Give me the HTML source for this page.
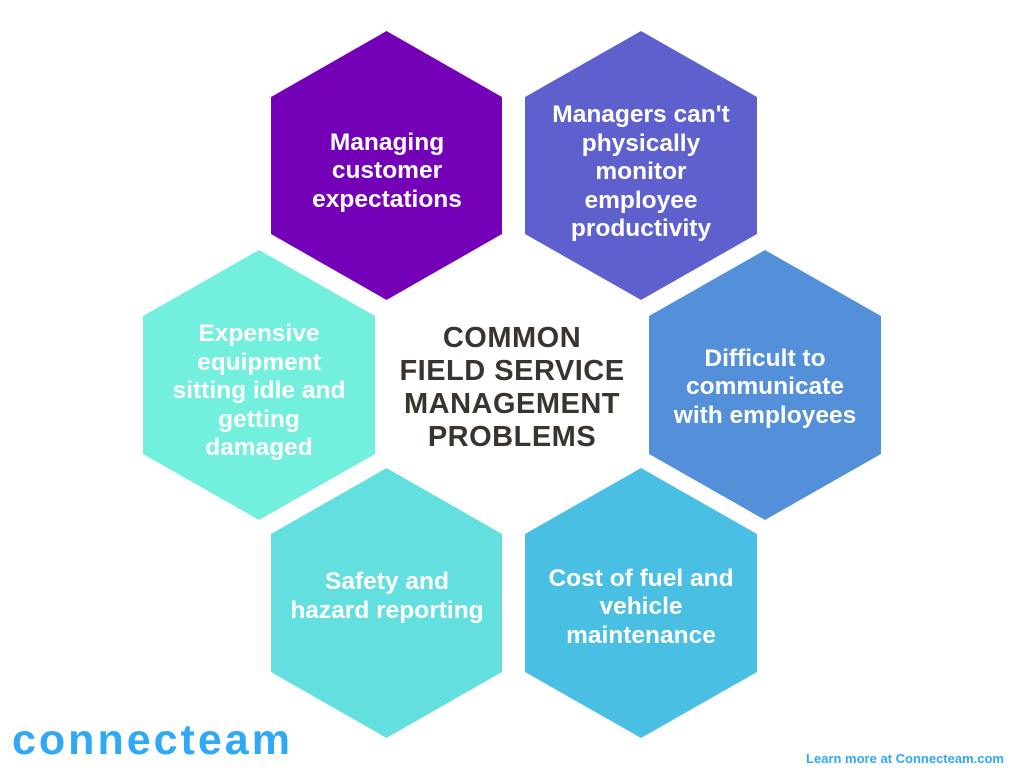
<!DOCTYPE html>
<html><head><meta charset="utf-8"><style>
body{margin:0;width:1024px;height:768px;background:#fff;position:relative;overflow:hidden;font-family:"Liberation Sans",sans-serif}
svg{position:absolute;left:0;top:0}
.t{position:absolute;width:230px;color:#fff;font-weight:bold;font-size:24.5px;line-height:28.5px;text-align:center;display:flex;align-items:center;justify-content:center;height:269px}
.c{position:absolute;left:382px;top:322px;width:260px;text-align:center;color:#3a342f;font-weight:900;font-size:29px;line-height:33px;letter-spacing:0.5px}
.logo{position:absolute;left:12px;top:716px;font-size:43px;font-weight:bold;color:#2fa8f5;letter-spacing:3px}
.lm{position:absolute;right:20px;top:751px;font-size:13px;font-weight:bold;color:#2fa8f5}
</style></head><body>
<svg width="1024" height="768">
<polygon points="386.5,31 502,97 502,234 386.5,300 271,234 271,97" fill="#7400b8"/>
<polygon points="641,31 757,97 757,234 641,300 525,234 525,97" fill="#5e60ce"/>
<polygon points="259,250 375,316 375,454 259,520 143,454 143,316" fill="#72efdd"/>
<polygon points="765,250 881,316 881,454 765,520 649,454 649,316" fill="#5390d9"/>
<polygon points="386.5,468 502,534 502,672 386.5,738 271,672 271,534" fill="#64dfdf"/>
<polygon points="641,468 757,534 757,672 641,738 525,672 525,534" fill="#48bfe3"/>
</svg>
<div class="t" style="left:272px;top:37px">Managing<br>customer<br>expectations</div>
<div class="t" style="left:526px;top:38px">Managers can't<br>physically<br>monitor<br>employee<br>productivity</div>
<div class="t" style="left:144px;top:257px">Expensive<br>equipment<br>sitting idle and<br>getting<br>damaged</div>
<div class="t" style="left:650px;top:253px">Difficult to<br>communicate<br>with employees</div>
<div class="t" style="left:272px;top:462px">Safety and<br>hazard reporting</div>
<div class="t" style="left:526px;top:473px">Cost of fuel and<br>vehicle<br>maintenance</div>
<div class="c">COMMON<br>FIELD SERVICE<br>MANAGEMENT<br>PROBLEMS</div>
<div class="logo">connecteam</div>
<div class="lm">Learn more at Connecteam.com</div>
</body></html>
